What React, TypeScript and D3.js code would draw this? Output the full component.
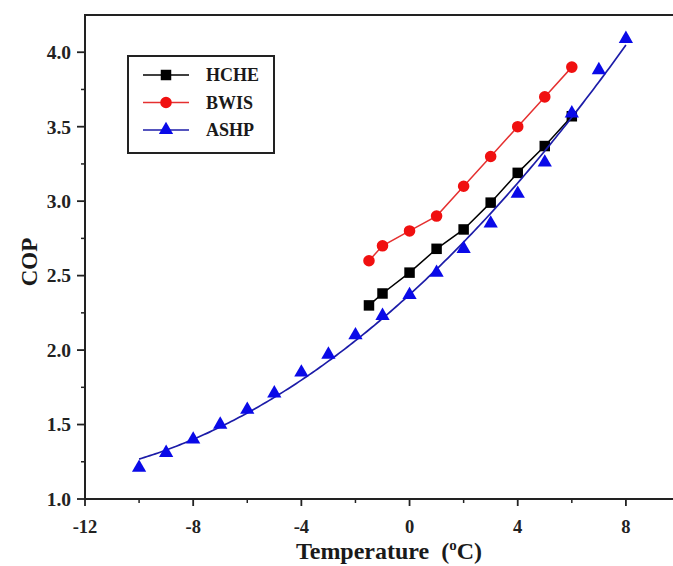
import React from "react";
import * as d3 from "d3";

const hcheTemps = [-1.5, -1, 0, 1, 2, 3, 4, 5, 6];
const hcheCop = [2.3, 2.38, 2.52, 2.68, 2.81, 2.99, 3.19, 3.37, 3.57];

const bwisTemps = [-1.5, -1, 0, 1, 2, 3, 4, 5, 6];
const bwisCop = [2.6, 2.7, 2.8, 2.9, 3.1, 3.3, 3.5, 3.7, 3.9];

const ashpTemps = [-10, -9, -8, -7, -6, -5, -4, -3, -2, -1, 0, 1, 2, 3, 4, 5, 6, 7, 8];
const ashpCop = [1.21, 1.31, 1.4, 1.5, 1.6, 1.71, 1.85, 1.97, 2.1, 2.23, 2.37, 2.52, 2.68, 2.85, 3.05, 3.26, 3.59, 3.88, 4.09];

const xMajorTicks = [-12, -8, -4, 0, 4, 8];
const xMinorTicks = [-10, -6, -2, 2, 6];
const yMajorTicks = [1.0, 1.5, 2.0, 2.5, 3.0, 3.5, 4.0];
const yMinorTicks = [1.25, 1.75, 2.25, 2.75, 3.25, 3.75];

const legendNames = ["HCHE", "BWIS", "ASHP"];

const FONT = "'Liberation Serif', 'Times New Roman', serif";

// least-squares polynomial regression of the ASHP points (fitted curve)
function polyFit(xs: number[], ys: number[], deg: number): number[] {
  const n = deg + 1;
  const A: number[][] = Array.from({ length: n }, () => new Array(n + 1).fill(0));
  for (let i = 0; i < xs.length; i++) {
    for (let r = 0; r < n; r++) {
      for (let c = 0; c < n; c++) A[r][c] += Math.pow(xs[i], r + c);
      A[r][n] += ys[i] * Math.pow(xs[i], r);
    }
  }
  for (let p = 0; p < n; p++) {
    let m = p;
    for (let r = p + 1; r < n; r++) if (Math.abs(A[r][p]) > Math.abs(A[m][p])) m = r;
    [A[p], A[m]] = [A[m], A[p]];
    for (let r = 0; r < n; r++) {
      if (r === p) continue;
      const f = A[r][p] / A[p][p];
      for (let c = p; c <= n; c++) A[r][c] -= f * A[p][c];
    }
  }
  return A.map((row, i) => row[n] / row[i]);
}

export default function App() {
  const W = 673;
  const H = 566;
  const left = 85;
  const right = 680;
  const top = 15;
  const bottom = 499;

  const x = d3.scaleLinear().domain([-12, 10]).range([left, right]);
  const y = d3.scaleLinear().domain([1, 4.25]).range([bottom, top]);

  const line = d3
    .line<[number, number]>()
    .x((d) => x(d[0]))
    .y((d) => y(d[1]));

  const hche: [number, number][] = hcheTemps.map((t, i) => [t, hcheCop[i]]);
  const bwis: [number, number][] = bwisTemps.map((t, i) => [t, bwisCop[i]]);
  const ashp: [number, number][] = ashpTemps.map((t, i) => [t, ashpCop[i]]);

  const coef = polyFit(ashpTemps, ashpCop, 2);
  const fitLine: [number, number][] = d3
    .range(ashpTemps[0], ashpTemps[ashpTemps.length - 1] + 0.001, 0.1)
    .map((t) => [t, coef.reduce((s, c, k) => s + c * Math.pow(t, k), 0)]);

  const sq = d3.symbol().type(d3.symbolSquare).size(110)() as string;
  const circ = d3.symbol().type(d3.symbolCircle).size(105)() as string;
  const tri = d3.symbol().type(d3.symbolTriangle).size(88)() as string;

  const black = "#000000";
  const red = "#f01010";
  const redLine = "#e53030";
  const blue = "#0a0ae8";
  const blueLine = "#1c1ca8";

  const legendRows = [
    { name: legendNames[0], stroke: black, fill: black, path: sq },
    { name: legendNames[1], stroke: redLine, fill: red, path: circ },
    { name: legendNames[2], stroke: blueLine, fill: blue, path: tri },
  ];

  const axisColor = "#222";

  return (
    <svg
      width={W}
      height={H}
      style={{ position: "absolute", left: 0, top: 0, background: "#fff" }}
    >
      {/* frame */}
      <rect
        x={left}
        y={top}
        width={right - left}
        height={bottom - top}
        fill="none"
        stroke={axisColor}
        strokeWidth={2}
      />

      {/* y ticks */}
      {yMajorTicks.map((v) => (
        <g key={"ym" + v}>
          <line x1={left - 8} x2={left} y1={y(v)} y2={y(v)} stroke={axisColor} strokeWidth={1.8} />
          <text
            x={left - 14}
            y={y(v)}
            dy="0.35em"
            textAnchor="end"
            fontFamily={FONT}
            fontWeight="bold"
            fontSize={19.5}
            fill="#222"
          >
            {v.toFixed(1)}
          </text>
        </g>
      ))}
      {yMinorTicks.map((v) => (
        <line key={"yn" + v} x1={left - 4} x2={left} y1={y(v)} y2={y(v)} stroke={axisColor} strokeWidth={1.5} />
      ))}

      {/* x ticks */}
      {xMajorTicks.map((t) => (
        <g key={"xm" + t}>
          <line x1={x(t)} x2={x(t)} y1={bottom} y2={bottom + 7} stroke={axisColor} strokeWidth={1.8} />
          <text
            x={x(t)}
            y={533}
            textAnchor="middle"
            fontFamily={FONT}
            fontWeight="bold"
            fontSize={18.5}
            fill="#222"
          >
            {t}
          </text>
        </g>
      ))}
      {xMinorTicks.map((t) => (
        <line key={"xn" + t} x1={x(t)} x2={x(t)} y1={bottom} y2={bottom + 4} stroke={axisColor} strokeWidth={1.5} />
      ))}

      {/* axis titles */}
      <text
        x={389}
        y={559}
        textAnchor="middle"
        fontFamily={FONT}
        fontWeight="bold"
        fontSize={24}
        fill="#1a1a1a"
      >
        Temperature{"\u00a0\u00a0"}(
        <tspan fontSize={15} dy={-9}>o</tspan>
        <tspan dy={9}>C)</tspan>
      </text>
      <text
        transform={`translate(37, 262) rotate(-90)`}
        textAnchor="middle"
        fontFamily={FONT}
        fontWeight="bold"
        fontSize={23}
        fill="#1a1a1a"
      >
        COP
      </text>

      {/* HCHE */}
      <path d={line(hche) as string} fill="none" stroke={black} strokeWidth={1.5} />
      {hche.map((d, i) => (
        <path key={"h" + i} d={sq} transform={`translate(${x(d[0])},${y(d[1])})`} fill={black} />
      ))}

      {/* BWIS */}
      <path d={line(bwis) as string} fill="none" stroke={redLine} strokeWidth={1.5} />
      {bwis.map((d, i) => (
        <path key={"b" + i} d={circ} transform={`translate(${x(d[0])},${y(d[1])})`} fill={red} />
      ))}

      {/* ASHP */}
      <path d={line(fitLine) as string} fill="none" stroke={blueLine} strokeWidth={1.7} />
      {ashp.map((d, i) => (
        <path key={"a" + i} d={tri} transform={`translate(${x(d[0])},${y(d[1])})`} fill={blue} />
      ))}

      {/* legend */}
      <rect x={128} y={56} width={146} height={97} fill="#fff" stroke="#222" strokeWidth={2} />
      {legendRows.map((r, i) => {
        const ry = 75 + i * 27.5;
        return (
          <g key={r.name}>
            <line x1={143} x2={189} y1={ry} y2={ry} stroke={r.stroke} strokeWidth={1.6} />
            <path d={r.path} transform={`translate(166,${ry})`} fill={r.fill} />
            <text
              x={206}
              y={ry}
              dy="0.35em"
              fontFamily={FONT}
              fontWeight="bold"
              fontSize={18}
              fill="#1a1a1a"
            >
              {r.name}
            </text>
          </g>
        );
      })}
    </svg>
  );
}
